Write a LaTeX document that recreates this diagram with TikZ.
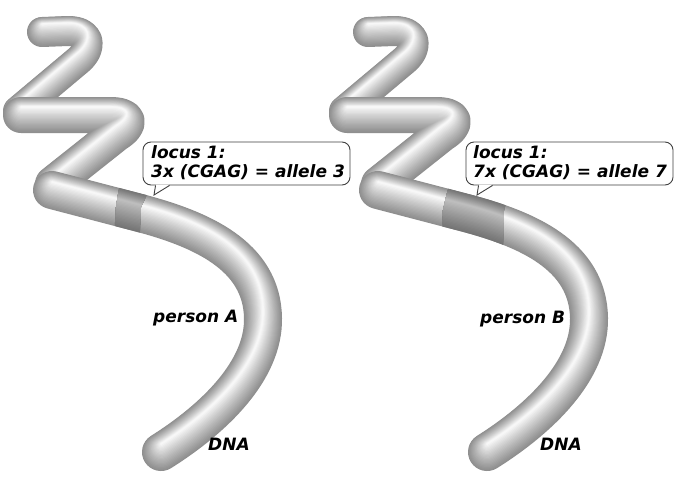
\documentclass[tikz,border=0pt]{standalone}
\usepackage{fontspec}
\newfontfamily\labfont{DejaVu Sans}[BoldItalicFont={* Bold Oblique}]
\definecolor{tubedark}{gray}{0.56}
\definecolor{tubelight}{gray}{0.97}
\definecolor{banddark}{gray}{0.46}
\definecolor{bandlight}{gray}{0.74}
\definecolor{boxline}{gray}{0.25}
\newcommand\tubelayers[4]{%
  \foreach \i in {0,...,20}{%
    \pgfmathsetmacro\lw{#2*(1-\i/21)}%
    \pgfmathsetmacro\sh{0.40*\i}%
    \pgfmathsetmacro\pc{100*(\i/20)^1.1}%
    \draw[line width=\lw pt, yshift=\sh pt, color=#4!\pc!#3, line cap=round, line join=round] #1;
  }}
\def\pathA{(42,32) -- (68,31) .. controls (90,31) and (93,46) .. (80,59) -- (18,111)}
\def\pathB{(21,115) -- (110,115) .. controls (130,115) and (132,124) .. (116,134) -- (53,184)}
\def\pathC{(52,190) -- (140,213) .. controls (200,229) and (262,255) .. (263,318) .. controls (264,370) and (215,418) .. (161,452)}
\tikzset{
  callbox/.style={draw=boxline, line width=0.9pt, fill=white, rounded corners=8pt, minimum width=207pt, minimum height=43pt, inner sep=0pt},
  callptr/.style={draw=boxline, line width=0.9pt, line join=miter},
  lab/.style={font=\labfont\bfseries\itshape\fontsize{17}{20}\selectfont, inner sep=0pt, anchor=base west, text=black}
}
\begin{document}
\begin{tikzpicture}[x=1pt,y=-1pt]
\useasboundingbox (0,0) rectangle (679,485);
\fill[white] (0,0) rectangle (679,485);
% left DNA
\tubelayers{\pathA}{30}{tubedark}{tubelight}
\tubelayers{\pathB}{36}{tubedark}{tubelight}
\tubelayers{\pathC}{38}{tubedark}{tubelight}
\begin{scope}
  \clip (121,176) -- (156,176) -- (141,207) -- (139,254) -- (113,254) -- (116,207) -- cycle;
  \tubelayers{\pathC}{38}{banddark}{bandlight}
\end{scope}
% right DNA
\begin{scope}[xshift=326pt]
\tubelayers{\pathA}{30}{tubedark}{tubelight}
\tubelayers{\pathB}{36}{tubedark}{tubelight}
\tubelayers{\pathC}{38}{tubedark}{tubelight}
\begin{scope}
  \clip (125,176) -- (189,176) -- (178,210) -- (177,258) -- (115,258) -- (117,210) -- cycle;
  \tubelayers{\pathC}{38}{banddark}{bandlight}
\end{scope}
\end{scope}
% callouts
\node[callbox] (boxA) at (246.5,163.5) {};
\coordinate (tipA) at (154,195);
\fill[white] ([xshift=13.4pt,yshift=0.8pt]boxA.south west) -- (tipA) -- ([xshift=26.6pt,yshift=0.8pt]boxA.south west) -- cycle;
\draw[callptr] ([xshift=13pt]boxA.south west) -- (tipA) -- ([xshift=27pt]boxA.south west);
\node[lab] (la1) at (151,158) {locus 1:};
\node[lab] (la2) at (151,177) {3x (CGAG) = allele 3};
\node[callbox] (boxB) at (569.5,163.5) {};
\coordinate (tipB) at (477,195);
\fill[white] ([xshift=13.4pt,yshift=0.8pt]boxB.south west) -- (tipB) -- ([xshift=26.6pt,yshift=0.8pt]boxB.south west) -- cycle;
\draw[callptr] ([xshift=13pt]boxB.south west) -- (tipB) -- ([xshift=27pt]boxB.south west);
\node[lab] (lb1) at (473,158) {locus 1:};
\node[lab] (lb2) at (473,177) {7x (CGAG) = allele 7};
% labels
\node[lab] (pa) at (153,322) {person A};
\node[lab] (da) at (208,450) {DNA};
\node[lab] (pb) at (480,323) {person B};
\node[lab] (db) at (540,450) {DNA};
\end{tikzpicture}
\end{document}
